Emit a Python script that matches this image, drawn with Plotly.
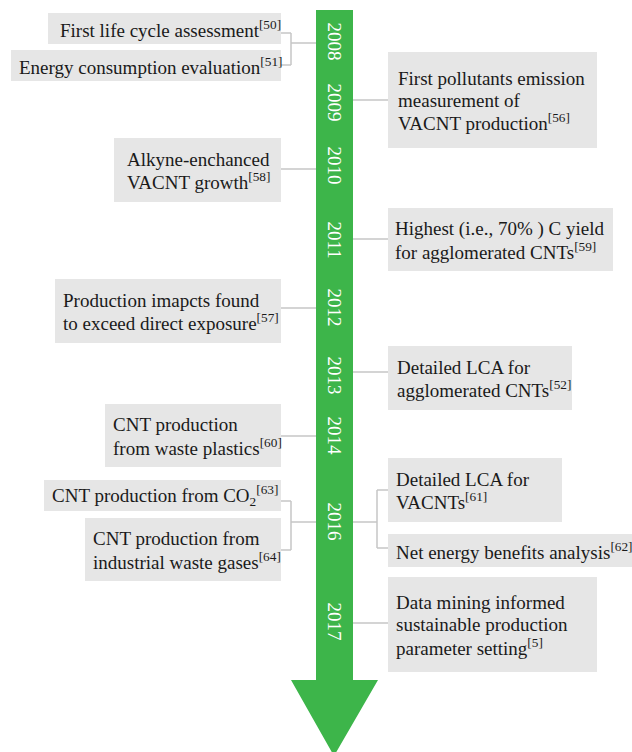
import plotly.graph_objects as go

# ---------------- data ----------------
years = ["2008", "2009", "2010", "2011", "2012", "2013", "2014", "2016", "2017"]

event_years = ["2008", "2008", "2009", "2010", "2011", "2012", "2013", "2014",
               "2016", "2016", "2016", "2016", "2017"]
event_sides = ["left", "left", "right", "left", "right", "left", "right", "left",
               "left", "left", "right", "right", "right"]
event_texts = [
    ["First life cycle assessment<sup>[50]</sup>"],
    ["Energy consumption evaluation<sup>[51]</sup>"],
    ["First pollutants emission", "measurement of", "VACNT production<sup>[56]</sup>"],
    ["Alkyne-enchanced", "VACNT growth<sup>[58]</sup>"],
    ["Highest (i.e., 70% ) C yield", "for agglomerated CNTs<sup>[59]</sup>"],
    ["Production imapcts found", "to exceed direct exposure<sup>[57]</sup>"],
    ["Detailed LCA for", "agglomerated CNTs<sup>[52]</sup>"],
    ["CNT production", "from waste plastics<sup>[60]</sup>"],
    ["CNT production from CO<sub>2</sub><sup>[63]</sup>"],
    ["CNT production from", "industrial waste gases<sup>[64]</sup>"],
    ["Detailed LCA for", "VACNTs<sup>[61]</sup>"],
    ["Net energy benefits analysis<sup>[62]</sup>"],
    ["Data mining informed", "sustainable production", "parameter setting<sup>[5]</sup>"],
]

# ---------------- layout geometry (pixels) ----------------
W, H = 632, 752
BAR_L, BAR_R, BAR_TOP, SHAFT_END = 316, 353, 10, 680
HEAD_L, HEAD_R, TIP_Y = 291, 378, 752
year_y = [41, 102, 165, 240, 307, 375, 436, 521, 621]

# box geometry: x0, x1, y0, y1, text x, connection y
box_geo = [
    (48, 281, 13, 44, 58, 33),
    (11, 281, 50, 81, 17, 65),
    (388, 597, 52, 148, 396, 100),
    (114, 281, 138, 202, 125, 169),
    (388, 613, 208, 271, 393, 239),
    (55, 281, 279, 343, 61, 308),
    (388, 572, 346, 410, 395, 372),
    (105, 281, 404, 467, 111, 436),
    (44, 281, 480, 511, 50, 501),
    (85, 281, 518, 581, 91, 550),
    (388, 562, 458, 522, 394, 490),
    (388, 640, 534, 567, 394, 548),
    (388, 597, 577, 672, 394, 623),
]
LINE_H = 22
GREEN = "#3db54a"
BOX = "#e6e6e6"
LINE = "#c6c6c6"
FONT = "Liberation Serif"

fig = go.Figure()
# invisible trace to establish axes
fig.add_trace(go.Scatter(x=[0, W], y=[0, H], mode="markers",
                         marker=dict(opacity=0), hoverinfo="skip", showlegend=False))

shapes = []
annotations = []

# arrow
path = (f"M {BAR_L} {BAR_TOP} L {BAR_R} {BAR_TOP} L {BAR_R} {SHAFT_END} "
        f"L {HEAD_R} {SHAFT_END} L {(BAR_L + BAR_R) / 2 - 0.5} {TIP_Y + 4} "
        f"L {HEAD_L} {SHAFT_END} L {BAR_L} {SHAFT_END} Z")
shapes.append(dict(type="path", path=path, xref="x", yref="y",
                   fillcolor=GREEN, line=dict(width=0), layer="below"))

# year labels
for yr, yy in zip(years, year_y):
    annotations.append(dict(x=(BAR_L + BAR_R) / 2, y=yy, xref="x", yref="y",
                            text=yr, showarrow=False, textangle=90,
                            font=dict(family=FONT, size=19, color="white"),
                            xanchor="center", yanchor="middle"))

# boxes and texts
for (x0, x1, y0, y1, tx, cy), lines in zip(box_geo, event_texts):
    shapes.append(dict(type="rect", x0=x0, x1=x1, y0=y0, y1=y1, xref="x", yref="y",
                       fillcolor=BOX, line=dict(width=0), layer="below"))
    n = len(lines)
    mid = (y0 + y1) / 2
    for i, ln in enumerate(lines):
        ly = mid + (i - (n - 1) / 2) * LINE_H
        annotations.append(dict(x=tx, y=ly, xref="x", yref="y", text=ln,
                                showarrow=False, xanchor="left", yanchor="middle",
                                font=dict(family=FONT, size=19, color="#1a1a1a")))


def seg(xa, ya, xb, yb):
    shapes.append(dict(type="line", x0=xa, y0=ya, x1=xb, y1=yb, xref="x", yref="y",
                       line=dict(color=LINE, width=1.5)))


# connectors
groups = {}
for idx, (yr, sd) in enumerate(zip(event_years, event_sides)):
    groups.setdefault((yr, sd), []).append(idx)

for (yr, sd), idxs in groups.items():
    yy = year_y[years.index(yr)]
    if len(idxs) == 1:
        g = box_geo[idxs[0]]
        cy = g[5]
        if sd == "left":
            seg(g[1], cy, BAR_L, cy)
        else:
            seg(BAR_R, cy, g[0], cy)
    else:
        ys = [box_geo[i][5] for i in idxs]
        if sd == "left":
            bx = box_geo[idxs[0]][1] + 10
            for i in idxs:
                seg(box_geo[i][1], box_geo[i][5], bx, box_geo[i][5])
            seg(bx, min(ys), bx, max(ys))
            my = yy + 2 if yr == "2008" else 522
            seg(bx, my, BAR_L, my)
        else:
            bx = box_geo[idxs[0]][0] - 11
            for i in idxs:
                seg(bx, box_geo[i][5], box_geo[i][0], box_geo[i][5])
            seg(bx, min(ys), bx, max(ys))
            seg(BAR_R, 522, bx, 522)

fig.update_layout(
    width=W, height=H,
    margin=dict(l=0, r=0, t=0, b=0, pad=0),
    paper_bgcolor="white", plot_bgcolor="white",
    xaxis=dict(range=[0, W], visible=False, fixedrange=True),
    yaxis=dict(range=[H, 0], visible=False, fixedrange=True),
    shapes=shapes, annotations=annotations, showlegend=False,
)
fig.write_html(
    "out.html",
    config={"displayModeBar": False},
    post_script="document.body.style.margin='0px';document.body.style.overflow='hidden';",
)
